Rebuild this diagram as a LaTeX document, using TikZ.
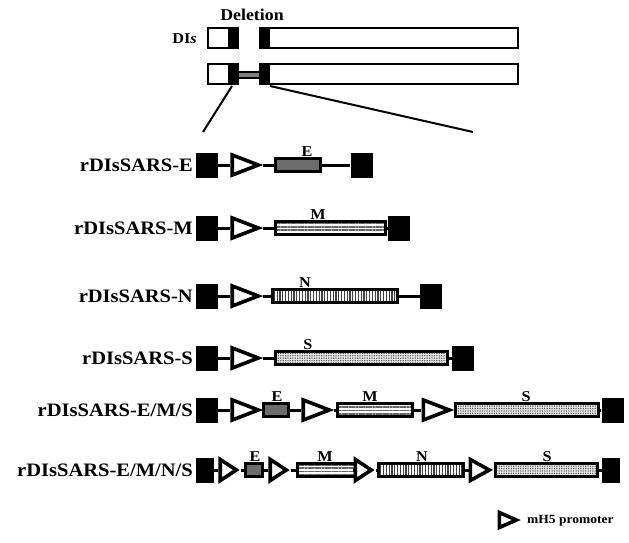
\documentclass[tikz,border=0pt]{standalone}
\usepackage{fontspec}
\setmainfont{Liberation Serif}[FakeStretch=1.08]
\usetikzlibrary{shapes.geometric,patterns.meta}

\tikzset{
  endbox/.style={rectangle, fill=black, inner sep=0pt, minimum width=22pt, minimum height=25pt},
  prom/.style={isosceles triangle, isosceles triangle stretches, shape border rotate=0,
               draw, line width=3.6pt, fill=white, inner sep=0pt, anchor=apex,
               minimum width=20pt, minimum height=26pt},
  promsmall/.style={prom, minimum width=21pt, minimum height=16pt},
  link/.style={line width=3pt},
  gene/.style={rectangle, draw, line width=3pt, inner sep=0pt, minimum height=13pt},
  geneE/.style={gene, fill=gray!85!black},
  geneM/.style={gene, pattern={Lines[angle=0,distance=3.4pt,line width=1.5pt]}, pattern color=gray!80!black},
  geneN/.style={gene, pattern={Lines[angle=90,distance=2.8pt,line width=1.3pt]}, pattern color=gray!50!black},
  geneS/.style={gene, preaction={fill=gray!20}, pattern={Dots[distance=2.4pt,radius=0.75pt]}, pattern color=gray!70!black},
  rowlabel/.style={anchor=east, inner sep=0pt, font=\fontsize{19}{19}\selectfont\bfseries},
  glabel/.style={anchor=south, inner sep=0pt, font=\fontsize{15}{15}\selectfont\bfseries},
  toplabel/.style={inner sep=0pt, font=\fontsize{16.5}{16.5}\selectfont\bfseries},
}

\begin{document}
\begin{tikzpicture}[x=1pt,y=-1pt]
\useasboundingbox (0,0) rectangle (629,543);

% ---- DIs genome and deletion site ----
\node[toplabel] (del) at (252,15) {Deletion};
\node[toplabel, anchor=east, font=\fontsize{15}{15}\selectfont\bfseries] (dis) at (197,39) {DI\textit{s}};

% upper strand: deletion gap
\draw[line width=2.4pt] (208,28) rectangle (238,48);
\fill (228,28) rectangle (238,48);
\draw[line width=2.4pt] (260,28) rectangle (518,48);
\fill (260,28) rectangle (270,48);

% lower strand: insertion at the deletion site
\draw[line width=2.4pt] (208,64) rectangle (238,84);
\fill (228,64) rectangle (238,84);
\draw[line width=2.4pt] (260,64) rectangle (518,84);
\fill (260,64) rectangle (270,84);
\draw[fill=gray, line width=1.2pt] (238,72) rectangle (260,78);

% zoom lines
\coordinate (zl1) at (232,86);
\coordinate (zl2) at (203,132);
\coordinate (zr1) at (270,86);
\coordinate (zr2) at (473,132);
\draw[line width=2pt] (zl1) -- (zl2);
\draw[line width=2pt] (zr1) -- (zr2);

% ---- rDIsSARS-E ----
\node[rowlabel] (l1) at (193,165) {rDIsSARS-E};
\node[endbox] (a1) at (207,165) {};
\node[prom] (p1) at (263,165) {};
\node[geneE, minimum width=45pt] (g1) at (297.5,165) {};
\node[endbox] (b1) at (361.5,165) {};
\node[glabel] (t1) at (307,157) {E};
\draw[link] (a1.east) -- (p1.west);
\draw[link] (p1.apex) -- (g1.west);
\draw[link] (g1.east) -- (b1.west);

% ---- rDIsSARS-M ----
\node[rowlabel] (l2) at (193,228) {rDIsSARS-M};
\node[endbox] (a2) at (207,228) {};
\node[prom] (p2) at (263,228) {};
\node[geneM, minimum width=110pt] (g2) at (330,228) {};
\node[endbox] (b2) at (399,228) {};
\node[glabel] (t2) at (318,220) {M};
\draw[link] (a2.east) -- (p2.west);
\draw[link] (p2.apex) -- (g2.west);
\draw[link] (g2.east) -- (b2.west);

% ---- rDIsSARS-N ----
\node[rowlabel] (l3) at (193,296) {rDIsSARS-N};
\node[endbox] (a3) at (207,296) {};
\node[prom] (p3) at (263,296) {};
\node[geneN, minimum width=125pt] (g3) at (334.5,296) {};
\node[endbox] (b3) at (431,296) {};
\node[glabel] (t3) at (305,288) {N};
\draw[link] (a3.east) -- (p3.west);
\draw[link] (p3.apex) -- (g3.west);
\draw[link] (g3.east) -- (b3.west);

% ---- rDIsSARS-S ----
\node[rowlabel] (l4) at (193,358) {rDIsSARS-S};
\node[endbox] (a4) at (207,358) {};
\node[prom] (p4) at (263,358) {};
\node[geneS, minimum width=172pt] (g4) at (361,358) {};
\node[endbox] (b4) at (463,358) {};
\node[glabel] (t4) at (308,350) {S};
\draw[link] (a4.east) -- (p4.west);
\draw[link] (p4.apex) -- (g4.west);
\draw[link] (g4.east) -- (b4.west);

% ---- rDIsSARS-E/M/S ----
\node[rowlabel] (l5) at (193,410) {rDIsSARS-E/M/S};
\node[endbox] (a5) at (207,410) {};
\node[prom] (p5a) at (263,410) {};
\node[geneE, minimum width=25pt] (g5e) at (276,410) {};
\node[prom] (p5b) at (334,410) {};
\node[geneM, minimum width=75pt] (g5m) at (374.5,410) {};
\node[prom] (p5c) at (454,410) {};
\node[geneS, minimum width=143pt] (g5s) at (526.5,410) {};
\node[endbox] (b5) at (612.5,410) {};
\node[glabel] (t5e) at (277,402) {E};
\node[glabel] (t5m) at (370,402) {M};
\node[glabel] (t5s) at (526,402) {S};
\draw[link] (a5.east) -- (p5a.west);
\draw[link] (p5a.apex) -- (g5e.west);
\draw[link] (g5e.east) -- (p5b.west);
\draw[link] (p5b.apex) -- (g5m.west);
\draw[link] (g5m.east) -- (p5c.west);
\draw[link] (p5c.apex) -- (g5s.west);
\draw[link] (g5s.east) -- (b5.west);

% ---- rDIsSARS-E/M/N/S ----
\node[rowlabel] (l6) at (193,470) {rDIsSARS-E/M/N/S};
\node[endbox, minimum width=18pt] (a6) at (205,470) {};
\node[promsmall] (p6a) at (241,470) {};
\node[geneE, minimum width=17pt] (g6e) at (253.5,470) {};
\node[promsmall] (p6b) at (291,470) {};
\node[geneM, minimum width=58pt] (g6m) at (326,470) {};
\node[promsmall] (p6c) at (376,470) {};
\node[geneN, minimum width=85pt] (g6n) at (420.5,470) {};
\node[promsmall, minimum height=19pt] (p6d) at (494,470) {};
\node[geneS, minimum width=102pt] (g6s) at (546,470) {};
\node[endbox, minimum width=18pt] (b6) at (611,470) {};
\node[glabel] (t6e) at (255,462) {E};
\node[glabel] (t6m) at (325,462) {M};
\node[glabel] (t6n) at (422,462) {N};
\node[glabel] (t6s) at (547,462) {S};
\draw[link] (a6.east) -- (p6a.west);
\draw[link] (p6a.apex) -- (g6e.west);
\draw[link] (g6e.east) -- (p6b.west);
\draw[link] (p6b.apex) -- (g6m.west);
\draw[link] (g6m.east) -- (p6c.west);
\draw[link] (p6c.apex) -- (g6n.west);
\draw[link] (g6n.east) -- (p6d.west);
\draw[link] (p6d.apex) -- (g6s.west);
\draw[link] (g6s.east) -- (b6.west);

% ---- legend ----
\node[prom, minimum width=15pt, minimum height=17pt] (key) at (521,520) {};
\node[anchor=west, inner sep=0pt, font=\fontsize{12.5}{12.5}\selectfont\bfseries] (keytext) at (527,521) {mH5 promoter};
\end{tikzpicture}
\end{document}
